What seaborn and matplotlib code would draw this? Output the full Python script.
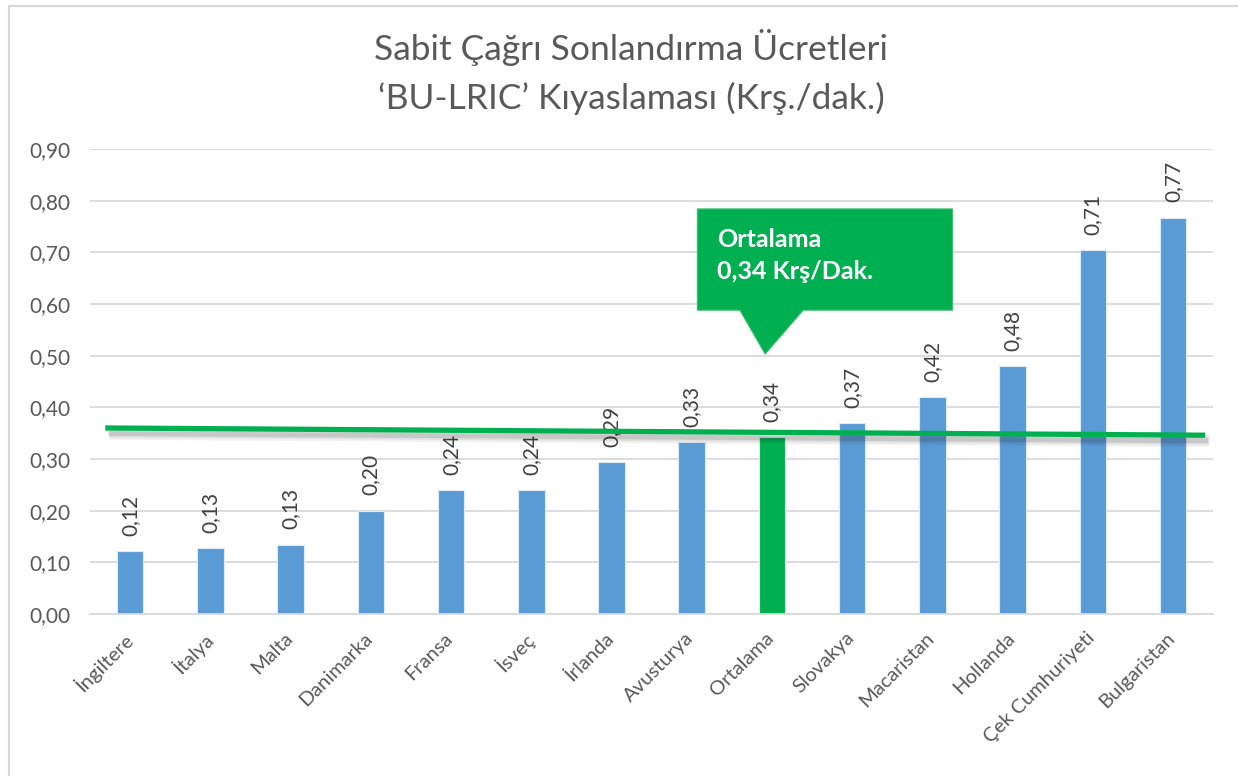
import pandas as pd
import numpy as np
import matplotlib
matplotlib.use("Agg")
import matplotlib.pyplot as plt
import matplotlib.patheffects as pe
import matplotlib.transforms as mtransforms
from matplotlib.patches import Polygon
from matplotlib.lines import Line2D
import seaborn as sns

# --- Veriler ---
ulkeler = ["İngiltere", "İtalya", "Malta", "Danimarka", "Fransa", "İsveç", "İrlanda",
           "Avusturya", "Ortalama", "Slovakya", "Macaristan", "Hollanda",
           "Çek Cumhuriyeti", "Bulgaristan"]
ucretler = [0.122, 0.128, 0.134, 0.200, 0.240, 0.240, 0.294,
            0.333, 0.342, 0.370, 0.419, 0.479, 0.704, 0.767]
etiketler = ["0,12", "0,13", "0,13", "0,20", "0,24", "0,24", "0,29",
             "0,33", "0,34", "0,37", "0,42", "0,48", "0,71", "0,77"]
ort_cizgi_x = [-0.31, 13.40]
ort_cizgi_y = [0.360, 0.346]
y_ticks = [0.0, 0.1, 0.2, 0.3, 0.4, 0.5, 0.6, 0.7, 0.8, 0.9]

MAVI = "#5B9BD5"
YESIL = "#00B050"
GRI = "#595959"

df = pd.DataFrame({"Ulke": ulkeler, "Ucret": ucretler})
renkler = {u: (YESIL if u == "Ortalama" else MAVI) for u in ulkeler}

sns.set_theme(style="white")
plt.rcParams["font.family"] = ["Lato", "DejaVu Sans"]

fig = plt.figure(figsize=(12.38, 7.76), dpi=100)
ax = fig.add_axes([0.0727, 0.2088, 0.9073, 0.5992])

sns.barplot(data=df, x="Ulke", y="Ucret", hue="Ulke", palette=renkler, legend=False,
            saturation=1, width=0.33, edgecolor="#DDEBF7", linewidth=0.8, ax=ax, zorder=2)

ax.set_ylim(0, 0.9)
ax.set_xlim(-0.5, len(ulkeler) - 0.5)
ax.set_yticks(y_ticks)
ax.set_yticklabels([f"{v:.2f}".replace(".", ",") for v in y_ticks], fontsize=15, color=GRI)
ax.yaxis.grid(True, color="#D9D9D9", linewidth=1.3, zorder=0)
ax.set_axisbelow(True)
for s in ["top", "right", "left"]:
    ax.spines[s].set_visible(False)
ax.spines["bottom"].set_color("#D9D9D9")
ax.spines["bottom"].set_linewidth(1.3)
ax.tick_params(axis="y", length=0, pad=14)
ax.tick_params(axis="x", length=0, pad=11)
ax.set_xlabel("")
ax.set_ylabel("")
ax.set_xticks(range(len(ulkeler)))
ax.set_xticklabels(ulkeler, rotation=45, ha="right", rotation_mode="anchor",
                   fontsize=14.5, color=GRI)
kaydir = mtransforms.ScaledTranslation(-7 / 100, 0, fig.dpi_scale_trans)
for lbl in ax.get_xticklabels():
    lbl.set_transform(lbl.get_transform() + kaydir)

# veri etiketleri
for i, (v, t) in enumerate(zip(ucretler, etiketler)):
    ax.annotate(t, (i, v), xytext=(0, 11), textcoords="offset points",
                rotation=90, ha="center", va="bottom", fontsize=15, color="#404040")

# ortalama çizgisi (gölgeli)
ax.plot(ort_cizgi_x, ort_cizgi_y, color=YESIL, linewidth=3.8, solid_capstyle="butt", zorder=5,
        path_effects=[pe.SimpleLineShadow(offset=(3, -4), shadow_color="k", alpha=0.06, linewidth=9),
                      pe.SimpleLineShadow(offset=(3, -4), shadow_color="k", alpha=0.08, linewidth=6),
                      pe.SimpleLineShadow(offset=(2, -4), shadow_color="k", alpha=0.12, linewidth=3.5),
                      pe.Normal()])

# açıklama kutusu
kutu = Polygon([(7.07, 0.784), (10.25, 0.784), (10.25, 0.588), (8.39, 0.588),
                (7.915, 0.503), (7.60, 0.588), (7.07, 0.588)],
               closed=True, facecolor=YESIL, edgecolor="#3DBE6E", linewidth=0.8, zorder=6)
ax.add_patch(kutu)
ax.text(7.32, 0.694, "Ortalama\n0,34 Krş/Dak.", color="white", fontsize=18,
        fontweight="bold", ha="left", va="center", linespacing=1.45, zorder=7)

fig.suptitle("Sabit Çağrı Sonlandırma Ücretleri\n‘BU-LRIC’ Kıyaslaması (Krş./dak.)",
             x=0.51, y=0.962, fontsize=25.5, color=GRI, linespacing=1.55)

# grafik çerçevesi
fig.add_artist(Line2D([0.0075, 0.0075], [0, 0.9925], color="#D9D9D9", linewidth=1.5))
fig.add_artist(Line2D([0.0075, 1.0], [0.9925, 0.9925], color="#D9D9D9", linewidth=1.5))

fig.savefig("out.png", dpi=100)
